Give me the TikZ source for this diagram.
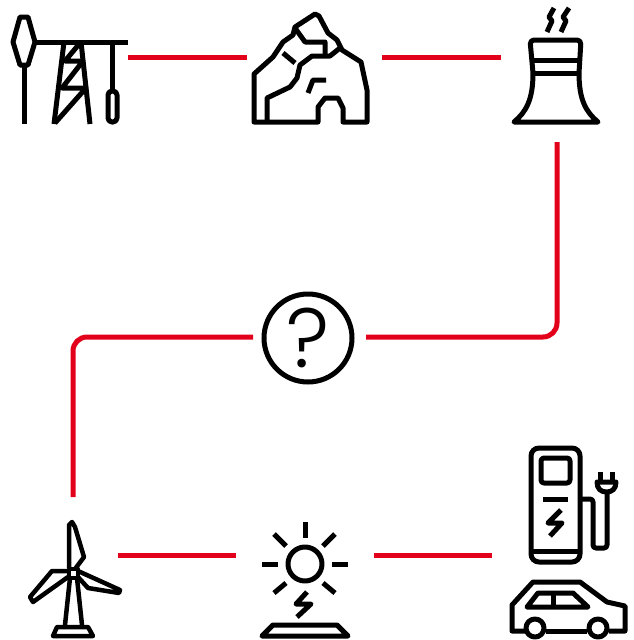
\documentclass[tikz,border=0pt]{standalone}
\usepackage{fontspec}
\newfontfamily\qfont{Poppins Light}
\definecolor{linkred}{HTML}{E2001A}
\tikzset{
	icon/.style={draw=black, line width=5pt, line join=round},
	thinicon/.style={draw=black, line width=4.5pt, line join=round},
	link/.style={draw=linkred, line width=5pt, rounded corners=14pt},
	qmark/.style={circle, draw=black, line width=5pt, minimum size=88pt, inner sep=0pt, font=\qfont\fontsize{84}{84}\selectfont},
}
\begin{document}
\begin{tikzpicture}[x=1pt,y=-1pt]
	\useasboundingbox (0,0) rectangle (633,640);
	
	% connector ends
	\coordinate (pumpout) at (128,57);
	\coordinate (rockin) at (247,57);
	\coordinate (rockout) at (382,57);
	\coordinate (coolin) at (501,57);
	\coordinate (coolout) at (557,142);
	\coordinate (corner1) at (557,337);
	\coordinate (questin) at (366,337);
	\coordinate (questout) at (253,337);
	\coordinate (corner2) at (73,337);
	\coordinate (windin) at (73,497);
	\coordinate (windout) at (118,555);
	\coordinate (sunin) at (236,555);
	\coordinate (sunout) at (374,555);
	\coordinate (plugin) at (492,555);
	
	\node[qmark] (quest) at (308,338) {?};
	
	\draw[link] (pumpout) -- (rockin);
	\draw[link] (rockout) -- (coolin);
	\draw[link] (coolout) -- (corner1) -- (questin);
	\draw[link] (questout) -- (corner2) -- (windin);
	\draw[link] (windout) -- (sunin);
	\draw[link] (sunout) -- (plugin);
	
	% pump
	\draw[icon] (20,17) -- (28,17) -- (35,42) -- (28,65) -- (20,65) -- (13,42) -- cycle;
	\draw[icon] (24,65) -- (24,124);
	\draw[icon] (35,42) -- (128,42);
	\draw[icon] (112,42) -- (112,91);
	\draw[icon, rounded corners=4pt] (108,91) rectangle (117,122);
	\draw[icon] (64,42) -- (54,124);
	\draw[icon] (81,42) -- (90,124);
	\draw[icon] (80,43) -- (65,61) -- (83,61) -- (62,88) -- (86,88) -- (55,123);
	
	% rock
	\draw[icon] (254,122) -- (254,74) -- (273,57) -- (283,42) -- (293,35) -- (295,27) -- (315,14) -- (319,16) -- (328,33) -- (337,40) -- (342,50) -- (361,62) -- (367,90) -- (367,122) -- (343,122) -- (343,108) -- (338,98) -- (325,98) -- (318,107) -- (318,122) -- cycle;
	\draw[icon] (267,122) -- (267,98) -- (290,87) -- (297,78) -- (300,65) -- (312,56) -- (330,56) -- (340,48);
	\draw[icon] (295,28) -- (305,42) -- (325,42) -- (325,55);
	\draw[icon] (283,53) -- (295,63);
	\draw[icon] (308,93) -- (313,80) -- (326,80);
	
	% cooling tower
	\draw[icon, rounded corners=4pt] (533,73) -- (530,40) -- (581,40) -- (579,73);
	\draw[icon] (533,73) .. controls (533,100) and (526,112) .. (514,122) -- (598,122) .. controls (586,112) and (579,100) .. (579,73);
	\draw[icon] (532,60) -- (580,60);
	\draw[icon] (533,73) -- (579,73);
	\draw[icon] (554,8) -- (549,17) -- (552,21) -- (547,32);
	\draw[icon] (569,8) -- (563,17) -- (566,21) -- (561,32);
	
	% wind turbine
	\draw[thinicon] (69,568) -- (69,525) -- (72,522) -- (75,527) -- (84,557) -- (75,569);
	\draw[thinicon] (68,571) -- (52,571) -- (30,597) -- (33,602) -- (68,577);
	\draw[thinicon] (78,571) -- (120,590) -- (119,593) -- (88,588) -- (78,577);
	\draw[thinicon] (69,569) rectangle (78,578);
	\draw[thinicon] (70,578) -- (65,625);
	\draw[thinicon] (77,578) -- (82,625);
	\draw[thinicon] (57,627) -- (88,627) -- (93,636) -- (53,636) -- cycle;
	
	% sun
	\draw[icon] (305,564) circle (17pt);
	\draw[icon] (305,522) -- (305,538);
	\draw[icon] (262,564) -- (278,564);
	\draw[icon] (332,564) -- (348,564);
	\draw[icon] (274,534) -- (286,546);
	\draw[icon] (335,534) -- (323,546);
	\draw[icon] (274,593) -- (286,583);
	\draw[icon] (335,593) -- (323,583);
	\draw[icon] (307,592) -- (296,604) -- (311,604) -- (297,617);
	\draw[icon] (273,625) -- (337,625) -- (348,636) -- (262,636) -- cycle;
	
	% charger
	\draw[icon, rounded corners=8pt] (531,448) rectangle (580,562);
	\draw[icon] (531,551) -- (580,551);
	\draw[icon, rounded corners=3pt] (541,458) rectangle (570,483);
	\draw[icon] (543,499) -- (568,499);
	\draw[icon] (561,510) -- (548,523) -- (562,523) -- (550,536);
	\draw[icon, rounded corners=3pt] (580,499) -- (593,499) -- (593,548) -- (607,548) -- (607,490);
	\draw[icon] (597,482) -- (616,482) .. controls (616,489) and (612,492) .. (606.5,492) .. controls (601,492) and (597,489) .. (597,482) -- cycle;
	\draw[icon] (600,472) -- (600,482);
	\draw[icon] (612,472) -- (612,482);
	
	% car
	\draw[icon] (525,631) -- (512,631) -- (512,605) -- (533,582) -- (580,582) -- (607,602) -- (625,606) -- (625,631) -- (609,631);
	\draw[icon] (546,631) -- (587,631);
	\draw[icon] (535,628) circle (9pt);
	\draw[icon] (598,628) circle (9pt);
	\draw[icon] (527,607) -- (538,593) -- (573,593) -- (588,607) -- cycle;
	\draw[icon] (553,593) -- (553,607);
\end{tikzpicture}
\end{document}
